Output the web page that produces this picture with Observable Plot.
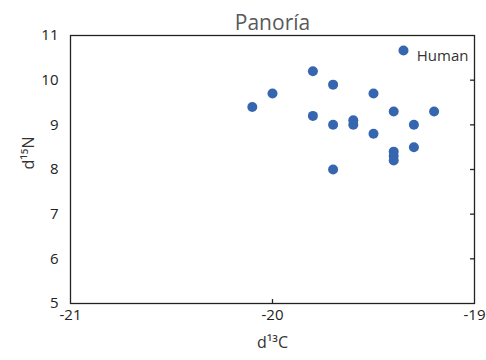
<!DOCTYPE html>
<html>
<head>
<meta charset="utf-8">
<script src="https://cdn.jsdelivr.net/npm/d3@7"></script>
<script src="https://cdn.jsdelivr.net/npm/@observablehq/plot@0.6"></script>
<style>
  html, body { margin: 0; padding: 0; background: #fff; }
  #chart svg { display: block; }
</style>
</head>
<body>
<div id="chart"></div>
<script>
const title = "Panoría";
const seriesName = "Human";
const xLabel = "d\u00B9\u00B3C";
const yLabel = "d\u00B9\u2075N";
const d13C = [-20.1, -20.0, -19.8, -19.8, -19.7, -19.7, -19.7, -19.6, -19.6, -19.5, -19.5, -19.4, -19.4, -19.4, -19.4, -19.3, -19.3, -19.2];
const d15N = [9.4, 9.7, 10.2, 9.2, 9.9, 9.0, 8.0, 9.1, 9.0, 9.7, 8.8, 9.3, 8.4, 8.3, 8.2, 9.0, 8.5, 9.3];
const xTicks = [-21, -20, -19];
const yTicks = [5, 6, 7, 8, 9, 10, 11];
const innerXTicks = [-20];
const innerYTicks = [6, 7, 8, 9, 10];

const data = d13C.map((c, i) => ({c, n: d15N[i]}));
const color = "#3766b0";
const font = "'Open Sans', 'Noto Sans', sans-serif";

const chart = Plot.plot({
  width: 486,
  height: 360,
  marginLeft: 70,
  marginRight: 12,
  marginTop: 35,
  marginBottom: 57,
  style: {fontFamily: font, background: "#fff", color: "#222"},
  x: {domain: [-21, -19]},
  y: {domain: [5, 11]},
  marks: [
    Plot.frame({stroke: "#222", strokeWidth: 1.3}),
    Plot.axisX({ticks: xTicks, tickSize: 0, tickPadding: 6, fontSize: 15, label: null, tickFormat: d => String(d)}),
    Plot.link(innerXTicks, {x1: d => d, x2: d => d, y1: () => 5, y2: () => 5.1, stroke: "#222", strokeWidth: 1.3}),
    Plot.axisY({ticks: yTicks, tickSize: 0, tickPadding: 12, fontSize: 15, label: null, tickFormat: d => String(d)}),
    Plot.link(innerYTicks, {y1: d => d, y2: d => d, x1: () => -19.022, x2: () => -19, stroke: "#222", strokeWidth: 1.3}),
    Plot.dot(data, {x: "c", y: "n", r: 5, fill: color}),
    Plot.text([title], {frameAnchor: "top", dy: -20, fontSize: 21, fill: "#595959", text: d => d}),
    Plot.text([xLabel], {frameAnchor: "bottom", dy: 44, fontSize: 16, fill: "#333", text: d => d}),
    Plot.text([yLabel], {frameAnchor: "left", dx: -42, rotate: -90, fontSize: 16, fill: "#333", text: d => d}),
    Plot.dot([seriesName], {frameAnchor: "top-right", dx: -71, dy: 15, r: 5, fill: color}),
    Plot.text([seriesName], {frameAnchor: "top-right", dx: -6, dy: 15, fontSize: 15, fill: "#333", textAnchor: "end", text: d => d})
  ]
});

document.getElementById("chart").appendChild(chart);
</script>
</body>
</html>
